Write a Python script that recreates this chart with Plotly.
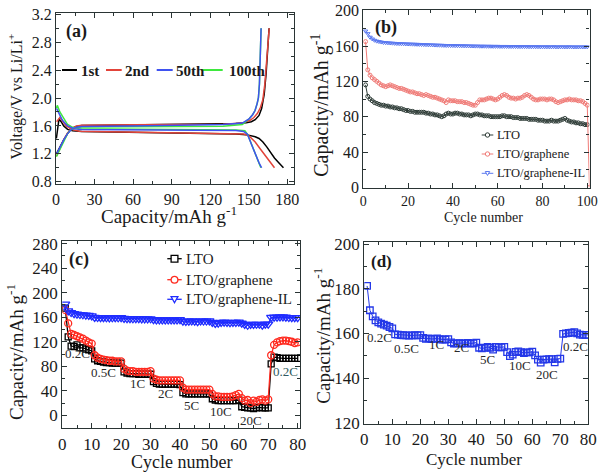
import plotly.graph_objects as go

W, H = 602, 474
FONT = "Liberation Serif, Times New Roman, serif"

# ---------------- (a) charge/discharge profiles ----------------
a1_dis_cap = [0.3, 2.3, 4, 6, 9, 13, 20, 40, 60, 80, 100, 120, 140, 148, 152, 155, 158, 161, 164, 167, 170, 173, 177]
a1_dis_v = [1.42, 1.70, 1.66, 1.60, 1.55, 1.53, 1.52, 1.515, 1.51, 1.505, 1.50, 1.495, 1.485, 1.475, 1.46, 1.445, 1.42, 1.37, 1.30, 1.22, 1.14, 1.08, 1.00]
a1_ch_cap = [0.3, 3, 6, 9, 11.5, 15, 20, 40, 60, 80, 100, 120, 140, 148, 152, 155, 158, 160, 162, 163.5, 164.5, 165.3, 165.8]
a1_ch_v = [1.20, 1.30, 1.40, 1.49, 1.55, 1.59, 1.605, 1.61, 1.615, 1.615, 1.62, 1.625, 1.635, 1.645, 1.66, 1.69, 1.75, 1.85, 2.05, 2.35, 2.60, 2.85, 3.00]

a2_dis_cap = [0.5, 3, 5, 8, 12, 18, 40, 80, 120, 140, 146, 150, 155, 159, 163, 166.5, 170]
a2_dis_v = [1.66, 1.72, 1.67, 1.60, 1.55, 1.525, 1.515, 1.505, 1.495, 1.49, 1.485, 1.46, 1.37, 1.27, 1.17, 1.08, 1.00]
a2_ch_cap = [0.5, 3, 6, 9, 12, 16, 20, 60, 100, 130, 145, 151, 154, 156.8, 159, 160.9, 162.5, 163.5, 164.5, 165.3, 165.9]
a2_ch_v = [1.17, 1.28, 1.40, 1.50, 1.56, 1.60, 1.61, 1.615, 1.62, 1.625, 1.64, 1.68, 1.72, 1.78, 1.86, 1.97, 2.20, 2.45, 2.70, 2.85, 3.00]

a50_dis_cap = [0.5, 2, 5, 9, 14, 20, 60, 100, 140, 146, 149, 152, 155, 158, 160]
a50_dis_v = [1.85, 1.80, 1.68, 1.60, 1.56, 1.55, 1.545, 1.54, 1.535, 1.52, 1.48, 1.34, 1.20, 1.07, 1.00]
a50_ch_cap = [0.5, 3, 6, 9, 12, 16, 20, 60, 100, 130, 145, 150.5, 153, 154.9, 156.5, 157.5, 158.3, 158.8, 159.2, 159.6]
a50_ch_v = [1.20, 1.30, 1.40, 1.49, 1.55, 1.58, 1.59, 1.60, 1.61, 1.62, 1.64, 1.705, 1.76, 1.82, 1.92, 2.00, 2.20, 2.45, 2.75, 3.00]

a100_dis_cap = [0.3, 1.0, 3, 6, 9, 13, 18, 40, 80, 120, 140, 147, 149, 151, 153.5, 155.7, 157.5, 159.4]
a100_dis_v = [1.85, 1.895, 1.80, 1.70, 1.62, 1.58, 1.56, 1.555, 1.55, 1.545, 1.54, 1.53, 1.48, 1.39, 1.27, 1.155, 1.07, 1.00]
a100_ch_cap = [0.3, 3, 6, 9, 11.5, 15, 20, 60, 100, 130, 145, 150.5, 153, 154.9, 156.5, 157.5, 158.3, 158.8, 159.2, 159.6]
a100_ch_v = [1.16, 1.27, 1.39, 1.49, 1.545, 1.575, 1.585, 1.59, 1.59, 1.595, 1.62, 1.705, 1.76, 1.82, 1.92, 2.00, 2.20, 2.45, 2.75, 3.00]

# ---------------- (b) cycling at constant rate ----------------
b_cycles = list(range(1, 101))
b_cycles_red = list(range(1, 102))
b_lto = [116, 103, 100, 98, 96, 95, 94, 93, 93, 92,
         92, 91, 91, 90, 90, 89, 89, 88, 87, 87,
         86, 86, 85, 85, 85, 85, 85, 84, 84, 83,
         83, 82, 82, 81, 80, 81, 83, 84, 83, 83,
         84, 84, 83, 83, 82, 82, 82, 81, 82, 83,
         83, 82, 82, 81, 81, 81, 80, 80, 80, 80,
         80, 81, 81, 80, 80, 80, 79, 79, 79, 78,
         78, 78, 78, 77, 77, 77, 77, 76, 76, 76,
         75, 75, 75, 76, 75, 75, 75, 76, 77, 78,
         76, 75, 74, 74, 73, 73, 72, 72, 71, 71]
b_gr = [165, 133, 127, 124, 122, 120, 118, 116, 115, 114,
        115, 116, 115, 114, 113, 112, 112, 111, 110, 109,
        108, 108, 107, 106, 106, 105, 104, 105, 104, 103,
        102, 102, 101, 100, 99, 98, 96, 99, 98, 98,
        98, 97, 97, 97, 96, 96, 95, 94, 93, 93,
        96, 99, 99, 99, 100, 101, 101, 100, 99, 100,
        102, 104, 105, 104, 102, 101, 101, 100, 101, 101,
        102, 104, 105, 104, 102, 100, 99, 99, 100, 100,
        100, 99, 100, 100, 99, 97, 96, 97, 98, 99,
        99, 100, 99, 99, 99, 98, 98, 97, 95, 93, 0]
b_il = [177, 174, 170, 168, 166.5, 165.5, 165, 164.5, 164, 163.8,
        163.6, 163.4, 163.2, 163, 162.8, 162.7, 162.6, 162.5, 162.4, 162.3,
        162.2, 162.1, 162, 161.9, 161.8, 161.7, 161.6, 161.5, 161.4, 161.3,
        161.2, 161.1, 161, 160.9, 160.8, 160.7, 160.6, 160.6, 160.5, 160.5,
        160.4, 160.4, 160.3, 160.3, 160.2, 160.2, 160.1, 160, 160, 159.9,
        159.9, 159.8, 159.8, 159.8, 159.7, 159.7, 159.7, 159.6, 159.6, 159.6,
        159.5, 159.5, 159.5, 159.5, 159.4, 159.4, 159.4, 159.4, 159.3, 159.3,
        159.3, 159.3, 159.3, 159.2, 159.2, 159.2, 159.2, 159.2, 159.1, 159.1,
        159.1, 159.1, 159.1, 159.0, 159.2, 159.0, 159.0, 159.1, 159.0, 159.0,
        159.0, 159.1, 159.0, 158.9, 159.0, 158.9, 159.0, 158.9, 159.0, 159.0]

# ---------------- (c)/(d) rate capability ----------------
c_cycles = list(range(1, 81))
c_lto = [175, 128, 113, 112, 115, 110, 110, 108, 107, 105,
         92, 89, 88, 87, 86, 86, 85, 85, 85, 85,
         71, 69, 68, 68, 68, 67, 67, 67, 67, 67,
         55, 52, 51, 51, 51, 51, 51, 51, 51, 50,
         37, 35, 35, 35, 35, 35, 35, 35, 35, 35,
         27, 25, 24, 24, 24, 24, 24, 24, 24, 25,
         14, 13, 12, 12, 11, 12, 13, 12, 12, 12,
         84, 95, 94, 93, 93, 93, 93, 93, 93, 93]
c_gr = [172, 150, 133, 131, 129, 127, 125, 122, 119, 117,
        98, 94, 92, 91, 90, 89, 89, 88, 88, 88,
        76, 73, 72, 72, 71, 71, 71, 71, 71, 72,
        60, 58, 57, 57, 57, 57, 57, 57, 57, 57,
        45, 42, 42, 42, 42, 42, 42, 42, 42, 42,
        35, 31, 31, 30, 30, 30, 30, 31, 33, 35,
        28, 24, 25, 20, 24, 22, 25, 26, 24, 26,
        98, 115, 119, 121, 122, 122, 121, 120, 118, 119]
c_il = [181.3, 170.4, 167.7, 165.9, 165.0, 164.4, 164.0, 163.5, 162.9, 162.3,
        159.6, 159.5, 159.3, 159.2, 159.1, 159.0, 159.1, 159.2, 159.1, 159.3,
        158.0, 157.6, 157.8, 157.5, 157.6, 157.8, 157.4, 157.2, 157.3, 157.5,
        156.0, 155.5, 155.6, 155.7, 155.5, 155.6, 155.8, 155.5, 155.6, 155.9,
        153.6, 153.3, 153.5, 154.0, 153.6, 152.8, 154.0, 153.8, 153.8, 154.0,
        151.6, 149.8, 150.5, 151.7, 152.0, 151.6, 151.2, 151.5, 151.5, 151.9,
        150.2, 148.3, 146.9, 148.3, 148.4, 148.5, 148.5, 147.0, 148.6, 148.7,
        159.8, 160.0, 160.2, 160.4, 160.6, 160.0, 159.5, 159.4, 159.4, 159.4]

rate_labels = ["0.2C", "0.5C", "1C", "2C", "5C", "10C", "20C", "0.2C"]
c_label_x = [5.1, 13.9, 25.5, 35.1, 44.0, 53.8, 64.0, 76.0]
c_label_y = [100.5, 70.2, 51.1, 34.8, 16.0, 7.0, -8.2, 72.3]
d_label_x = [5.4, 15.1, 25.9, 34.8, 44.1, 55.6, 65.4, 75.5]
d_label_y = [158.4, 153.2, 155.2, 153.9, 148.3, 145.7, 141.5, 154.3]

a_names = ["1st", "2nd", "50th", "100th"]
series_names = ["LTO", "LTO/graphene", "LTO/graphene-IL"]

# colours
A_COL = ["#000000", "#e2443a", "#3f52f0", "#3ee83e"]
B_COL = ["#2d3b36", "#f07a76", "#5a78f0"]
C_COL = ["#000000", "#ff2a1f", "#1f2cff"]
D_COL = "#2438e8"
AX = "#2a3434"


def px(x):
    return x / W


def py(y):
    return 1 - y / H


fig = go.Figure()

# (a)
a_curves = [
    (a1_dis_cap, a1_dis_v, 0), (a1_ch_cap, a1_ch_v, 0),
    (a2_dis_cap, a2_dis_v, 1), (a2_ch_cap, a2_ch_v, 1),
    (a100_dis_cap, a100_dis_v, 3), (a50_dis_cap, a50_dis_v, 2),
    (a100_ch_cap, a100_ch_v, 3), (a50_ch_cap, a50_ch_v, 2),
]
for xs, ys, k in a_curves:
    fig.add_trace(go.Scatter(x=xs, y=ys, mode="lines", name=a_names[k],
                             line=dict(color=A_COL[k], width=1.5),
                             xaxis="x", yaxis="y", showlegend=False))

# (b)
for xs, ys, col, sym in [(b_cycles, b_lto, B_COL[0], "circle-open"),
                          (b_cycles_red, b_gr, B_COL[1], "circle-open"),
                          (b_cycles, b_il, B_COL[2], "triangle-down-open")]:
    fig.add_trace(go.Scatter(x=xs, y=ys, mode="lines+markers",
                             line=dict(color=col, width=1),
                             marker=dict(symbol=sym, size=4, color=col, line=dict(width=1, color=col)),
                             xaxis="x2", yaxis="y2", showlegend=False))

# (c)
for ys, col, sym, sz in [(c_lto, C_COL[0], "square-open", 6),
                          (c_gr, C_COL[1], "circle-open", 7),
                          (c_il, C_COL[2], "triangle-down-open", 8)]:
    fig.add_trace(go.Scatter(x=c_cycles, y=ys, mode="lines+markers",
                             line=dict(color=col, width=1.3),
                             marker=dict(symbol=sym, size=sz, color=col, line=dict(width=1.3, color=col)),
                             xaxis="x3", yaxis="y3", showlegend=False))

# (d)
fig.add_trace(go.Scatter(x=c_cycles, y=c_il, mode="lines+markers",
                         line=dict(color=D_COL, width=1),
                         marker=dict(symbol="square-open", size=6.5, color=D_COL, line=dict(width=1.3, color=D_COL)),
                         xaxis="x4", yaxis="y4", showlegend=False))


def axis(domain, rng, dtick, tick0, mdtick, fsize, anchor, fmt=None):
    d = dict(domain=domain, range=rng, dtick=dtick, tick0=tick0, anchor=anchor,
             automargin=False, ticklabeloverflow="allow",
             showline=True, mirror="allticks", linecolor=AX, linewidth=1.2,
             ticks="inside", ticklen=5, tickwidth=1, tickcolor=AX,
             showgrid=False, zeroline=False,
             minor=dict(ticks="inside", ticklen=3, dtick=mdtick, tickcolor=AX, tickwidth=1, showgrid=False),
             tickfont=dict(family=FONT, size=fsize, color="#1a1a1a"))
    if fmt:
        d["tickformat"] = fmt
    return d


layout = dict(
    width=W, height=H, margin=dict(l=0, r=0, t=0, b=0, autoexpand=False),
    paper_bgcolor="white", plot_bgcolor="white", showlegend=False,
    font=dict(family=FONT, color="#1a1a1a"),
    xaxis=axis([px(56), px(294)], [0, 185.2], 30, 0, 15, 16, "y"),
    yaxis=axis([py(184.3), py(12.7)], [0.763, 3.223], 0.4, 0.8, 0.2, 16, "x", ".1f"),
    xaxis2=axis([px(363.3), px(589.5)], [0, 101], 20, 0, 10, 14, "y2"),
    yaxis2=axis([py(188.3), py(10)], [-1.1, 200.8], 40, 0, 20, 16, "x2"),
    xaxis3=axis([px(62.3), px(300)], [0, 80.8], 10, 0, 5, 17, "y3"),
    yaxis3=axis([py(428), py(241)], [-20.7, 284.4], 40, 0, 20, 17, "x3"),
    xaxis4=axis([px(364.3), px(588.3)], [0, 80.0], 10, 0, 5, 17, "y4"),
    yaxis4=axis([py(423.7), py(242)], [119.55, 201.0], 20, 120, 10, 17, "x4"),
)
fig.update_layout(**layout)

ann = []
shapes = []


def text(x, y, t, size, bold=False, angle=0, color="#1a1a1a", xanchor="center"):
    if bold:
        t = "<b>" + t + "</b>"
    ann.append(dict(x=px(x), y=py(y), xref="paper", yref="paper", text=t, showarrow=False,
                    xanchor=xanchor, yanchor="middle", textangle=angle,
                    font=dict(family=FONT, size=size, color=color)))


# axis titles
text(15.5, 97, "Voltage/V vs Li/Li<sup>+</sup>", 16, angle=-90)
text(169, 215, "Capacity/mAh g<sup>-1</sup>", 19)
text(320.8, 105, "Capacity/mAh g<sup>-1</sup>", 20, angle=-90)
text(483, 217, "Cycle number", 14)
text(15, 352, "Capacity/mAh g<sup>-1</sup>", 19, angle=-90)
text(181, 462, "Cycle number", 18)
text(321.7, 336, "Capacity/mAh g<sup>-1</sup>", 19, angle=-90)
text(473.7, 459, "Cycle number", 17)

# panel labels
text(76, 31.5, "(a)", 18, bold=True)
text(385.8, 27.5, "(b)", 18, bold=True)
text(79, 259.5, "(c)", 18, bold=True)
text(381.7, 261, "(d)", 17, bold=True)

# rate labels in data coordinates
for i, lab in enumerate(rate_labels):
    col = "#2f5a60" if i == len(rate_labels) - 1 else "#2a2a2a"
    ann.append(dict(x=c_label_x[i], y=c_label_y[i], xref="x3", yref="y3", text=lab, showarrow=False,
                    font=dict(family=FONT, size=13, color=col)))
    ann.append(dict(x=d_label_x[i], y=d_label_y[i], xref="x4", yref="y4", text=lab, showarrow=False,
                    font=dict(family=FONT, size=13, color="#2a2a2a")))


def hline(x0, x1, y, col, w):
    shapes.append(dict(type="line", xref="paper", yref="paper", x0=px(x0), x1=px(x1), y0=py(y), y1=py(y),
                       line=dict(color=col, width=w)))


def marker_shape(kind, cx, cy, s, col, w=1.2):
    if kind == "circle":
        shapes.append(dict(type="circle", xref="paper", yref="paper", x0=px(cx - s), x1=px(cx + s),
                           y0=py(cy + s), y1=py(cy - s), fillcolor="white", line=dict(color=col, width=w)))
    elif kind == "square":
        shapes.append(dict(type="rect", xref="paper", yref="paper", x0=px(cx - s), x1=px(cx + s),
                           y0=py(cy + s), y1=py(cy - s), fillcolor="white", line=dict(color=col, width=w)))
    else:
        path = "M %.5f,%.5f L %.5f,%.5f L %.5f,%.5f Z" % (
            px(cx - s), py(cy - s * 0.8), px(cx + s), py(cy - s * 0.8), px(cx), py(cy + s))
        shapes.append(dict(type="path", xref="paper", yref="paper", path=path, fillcolor="white",
                           line=dict(color=col, width=w)))


# legend (a)
a_leg = [(62, 77, 79), (106, 121.7, 123.3), (156.7, 172.7, 174), (201.7, 222.7, 226.7)]
for k, (x0, x1, tx) in enumerate(a_leg):
    hline(x0, x1, 70, A_COL[k], 2)
    text(tx, 70.5, a_names[k], 15, bold=True, xanchor="left")

# legend (b)
b_rows = [135, 154, 173.3]
b_kinds = ["circle", "circle", "triangle"]
for k, yy in enumerate(b_rows):
    hline(481.7, 493.3, yy, B_COL[k], 1)
    marker_shape(b_kinds[k], 487.5, yy, 2.2, B_COL[k], 1)
    text(494.5, yy, series_names[k], 12.5, xanchor="left")

# legend (c)
c_rows = [258.7, 279.7, 299.3]
c_kinds = ["square", "circle", "triangle"]
for k, yy in enumerate(c_rows):
    hline(167.3, 181.7, yy, C_COL[k], 1.3)
    marker_shape(c_kinds[k], 174.5, yy, 3.4, C_COL[k], 1.3)
    text(183.5, yy, series_names[k], 15, xanchor="left")

fig.update_layout(annotations=ann, shapes=shapes)
# remove the browser's default 8px body margin so the figure sits at the page origin
fig.write_html("out.html", config={"displayModeBar": False},
               post_script="document.body.style.margin='0';document.body.style.overflow='hidden';")
